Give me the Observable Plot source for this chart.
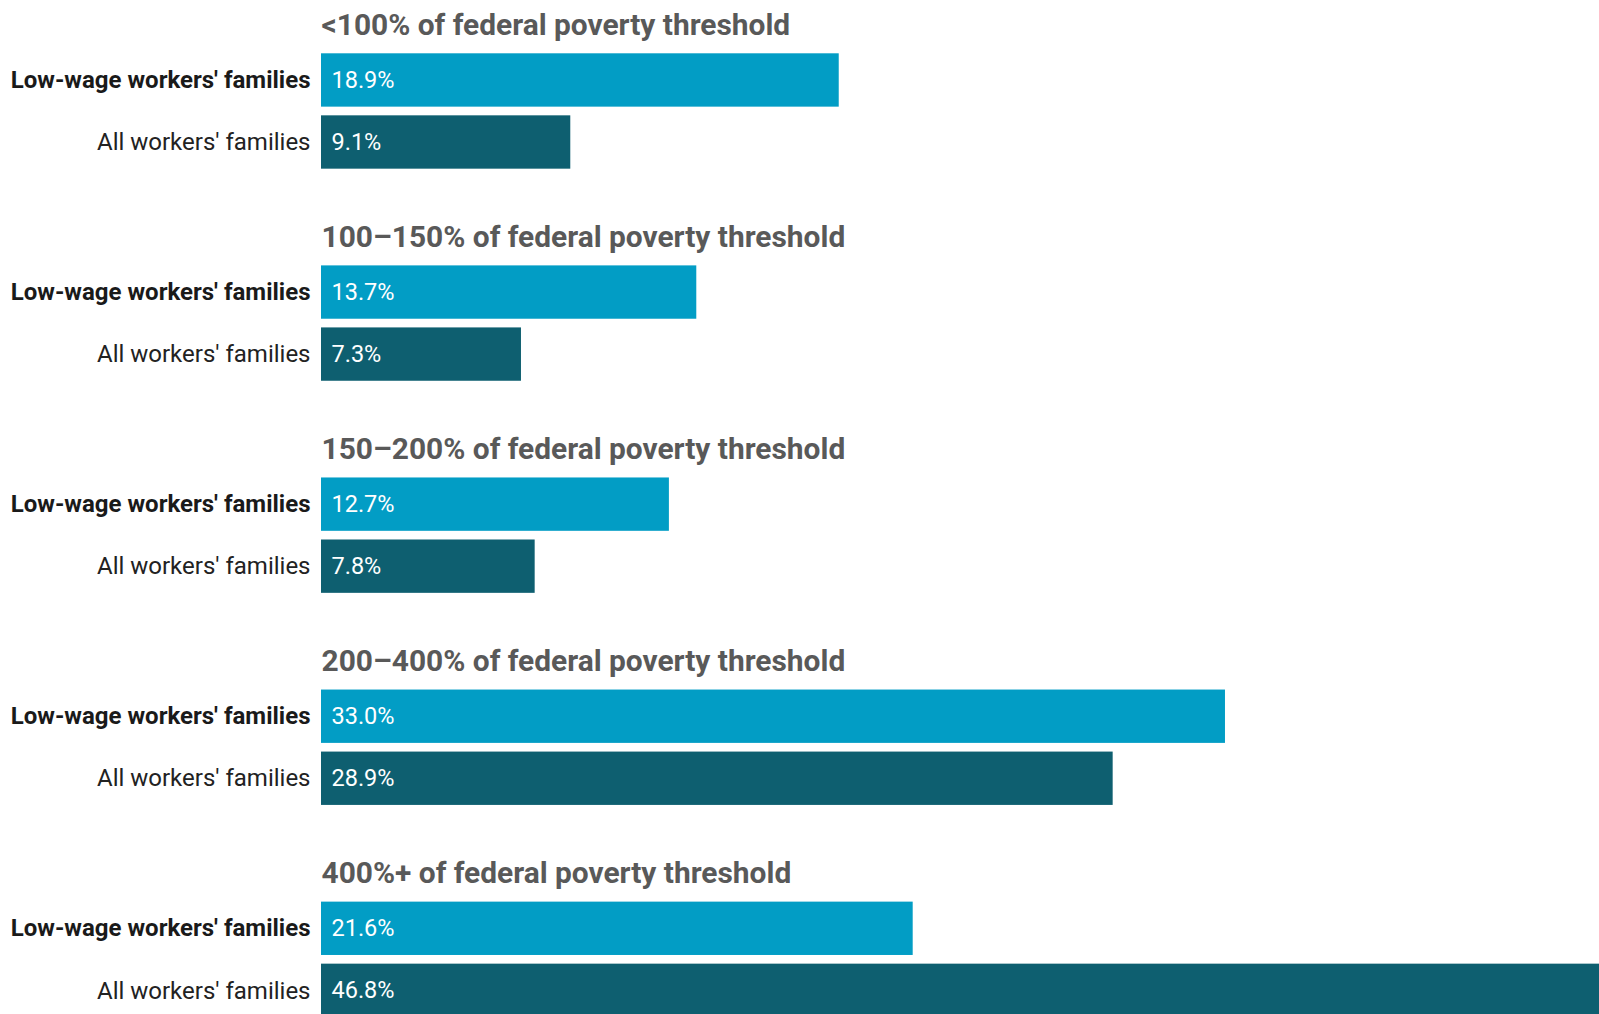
<!DOCTYPE html>
<html>
<head>
<meta charset="utf-8">
<script src="https://cdn.jsdelivr.net/npm/d3@7"></script>
<script src="https://cdn.jsdelivr.net/npm/@observablehq/plot@0.6"></script>
<style>
  html, body { margin: 0; padding: 0; background: #fff; overflow: hidden; }
  #chart svg { display: block; overflow: visible; }
</style>
</head>
<body>
<div id="chart"></div>
<script>
const groups = [
  "<100% of federal poverty threshold",
  "100–150% of federal poverty threshold",
  "150–200% of federal poverty threshold",
  "200–400% of federal poverty threshold",
  "400%+ of federal poverty threshold"
];
const series = ["Low-wage workers' families", "All workers' families"];
const lowWage = [18.9, 13.7, 12.7, 33.0, 21.6];
const allWorkers = [9.1, 7.3, 7.8, 28.9, 46.8];
const colors = ["#029dc5", "#0e5f70"];

const data = [];
groups.forEach((g, i) => {
  data.push({group: g, series: series[0], value: lowWage[i]});
  data.push({group: g, series: series[1], value: allWorkers[i]});
});

const font = "Roboto, 'Noto Sans', sans-serif";

const chart = Plot.plot({
  width: 1599,
  height: 1014,
  marginLeft: 321,
  marginRight: -4,
  marginTop: 53.3,
  marginBottom: -3,
  style: {fontFamily: font, background: "#fff"},
  x: {domain: [0, 46.8], axis: null},
  y: {domain: series, paddingInner: 0.14, paddingOuter: 0, round: false, axis: null},
  fy: {domain: groups, paddingInner: 0.456, paddingOuter: 0, round: false, axis: null},
  color: {domain: series, range: colors},
  marks: [
    Plot.barX(data, {x: "value", y: "series", fy: "group", fill: "series"}),
    Plot.text(data, {
      x: 0, y: "series", fy: "group",
      text: d => d.value.toFixed(1) + "%",
      textAnchor: "start", dx: 10, fill: "white",
      fontSize: 23.5, fontFamily: font
    }),
    Plot.text(data.filter(d => d.series === series[0]), {
      x: 0, y: "series", fy: "group", text: "series",
      textAnchor: "end", dx: -11, fill: "#1a1a1a",
      fontSize: 24, fontWeight: "bold", fontFamily: font
    }),
    Plot.text(data.filter(d => d.series === series[1]), {
      x: 0, y: "series", fy: "group", text: "series",
      textAnchor: "end", dx: -11, fill: "#222",
      fontSize: 24, fontFamily: font
    }),
    Plot.text(groups, {
      fy: d => d, text: d => d,
      frameAnchor: "top-left", lineAnchor: "bottom",
      dy: -19, dx: 0, fill: "#595959",
      fontSize: 29.9, fontWeight: "bold", fontFamily: font
    })
  ]
});
document.getElementById("chart").appendChild(chart);
</script>
</body>
</html>
